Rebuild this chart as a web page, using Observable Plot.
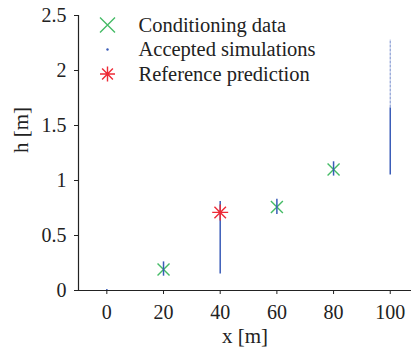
<!DOCTYPE html>
<html>
<head>
<meta charset="utf-8">
<script src="https://cdn.jsdelivr.net/npm/d3@7"></script>
<script src="https://cdn.jsdelivr.net/npm/@observablehq/plot@0.6"></script>
<style>
  html, body { margin: 0; padding: 0; background: #fff; }
  #chart svg { display: block; }
</style>
</head>
<body>
<div id="chart"></div>
<script>
// ---- data ----
const condX = [20, 60, 80];              // conditioning data positions [m]
const condH = [0.19, 0.76, 1.10];        // conditioning data heads [m]

const refX = [40];                       // reference prediction position
const refH = [0.71];                     // reference prediction head

// accepted simulations: ranges of simulated heads at each position (dense part)
const simX    = [0, 20, 40, 60, 80, 100];
const simLow  = [0, 0.13, 0.15, 0.69, 1.04, 1.05];
const simHigh = [0.01, 0.26, 0.81, 0.83, 1.17, 1.66];
// sparse tail of accepted simulations at x = 100
const simSparseX    = [100];
const simSparseLow  = [1.66];
const simSparseHigh = [2.28];

const xTicks = [0, 20, 40, 60, 80, 100];
const xTickLabels = ["0", "20", "40", "60", "80", "100"];
const yTicks = [0, 0.5, 1, 1.5, 2, 2.5];
const yTickLabels = ["0", "0.5", "1", "1.5", "2", "2.5"];

const legendLabels = ["Conditioning data", "Accepted simulations", "Reference prediction"];

// ---- build tables ----
const cond = condX.map((x, i) => ({x, h: condH[i]}));
const refp = refX.map((x, i) => ({x, h: refH[i]}));
const sims = simX.map((x, i) => ({x, lo: simLow[i], hi: simHigh[i]}));
const simsSparse = simSparseX.map((x, i) => ({x, lo: simSparseLow[i], hi: simSparseHigh[i]}));

const GREEN = "#45bb66";
const RED = "#ee2a36";
const BLUE = "#3a5cb8";
const INK = "#222";

const xSym = {
  draw(ctx, size) {
    const r = Math.sqrt(size / Math.PI);
    ctx.moveTo(-r, -r); ctx.lineTo(r, r);
    ctx.moveTo(-r, r); ctx.lineTo(r, -r);
  }
};
const starSym = {
  draw(ctx, size) {
    const r = Math.sqrt(size / Math.PI);
    const d = r * 0.72;
    ctx.moveTo(-r, 0); ctx.lineTo(r, 0);
    ctx.moveTo(0, -r); ctx.lineTo(0, r);
    ctx.moveTo(-d, -d); ctx.lineTo(d, d);
    ctx.moveTo(-d, d); ctx.lineTo(d, -d);
  }
};

const legendRows = legendLabels.map((label, i) => ({label, i}));
const rowDy = (i) => 9.5 + i * 24.5;

const chart = Plot.plot({
  width: 411,
  height: 349,
  marginLeft: 78,
  marginRight: 0,
  marginTop: 15,
  marginBottom: 59,
  style: {fontFamily: "'Liberation Serif', 'Times New Roman', serif", fontSize: "20px", color: INK, background: "#fff"},
  x: {domain: [-10, 107.5]},
  y: {domain: [0, 2.5]},
  marks: [
    Plot.axisX({ticks: xTicks, tickFormat: (d) => xTickLabels[xTicks.indexOf(d)], tickSize: 4, tickPadding: 10, label: null, stroke: INK, fill: INK, fontSize: 20}),
    Plot.axisY({ticks: yTicks, tickFormat: (d) => yTickLabels[yTicks.indexOf(d)], tickSize: 4, tickPadding: 8, label: null, stroke: INK, fill: INK, fontSize: 20}),
    Plot.ruleY([0], {stroke: INK, strokeWidth: 1.2}),
    Plot.ruleX([-10], {stroke: INK, strokeWidth: 1.2}),
    // conditioning data
    Plot.dot(cond, {x: "x", y: "h", symbol: xSym, r: 6, stroke: GREEN, fill: "none", strokeWidth: 1.4}),
    // accepted simulations
    Plot.ruleX(sims, {x: "x", y1: "lo", y2: "hi", stroke: BLUE, strokeWidth: 1.5}),
    Plot.ruleX(simsSparse, {x: "x", y1: "lo", y2: "hi", stroke: BLUE, strokeWidth: 1.2, strokeOpacity: 0.6, strokeDasharray: "3,1"}),
    // reference prediction
    Plot.dot(refp, {x: "x", y: "h", symbol: starSym, r: 8, stroke: RED, fill: "none", strokeWidth: 1.4}),
    // axis labels
    Plot.text(["x [m]"], {frameAnchor: "bottom", dy: 46, lineAnchor: "middle", fontSize: 21, fill: INK}),
    Plot.text(["h [m]"], {frameAnchor: "left", dx: -57, rotate: -90, lineAnchor: "middle", fontSize: 21, fill: INK}),
    // legend
    Plot.dot([legendRows[0]], {frameAnchor: "top-left", dx: 29, dy: rowDy(0), symbol: xSym, r: 7.5, stroke: GREEN, fill: "none", strokeWidth: 1.4}),
    Plot.dot([legendRows[1]], {frameAnchor: "top-left", dx: 29, dy: rowDy(1), r: 1.2, fill: BLUE, stroke: "none"}),
    Plot.dot([legendRows[2]], {frameAnchor: "top-left", dx: 29, dy: rowDy(2), symbol: starSym, r: 7.5, stroke: RED, fill: "none", strokeWidth: 1.4}),
    ...legendRows.map((row) => Plot.text([row], {frameAnchor: "top-left", dx: 60, dy: rowDy(row.i), text: "label", textAnchor: "start", lineAnchor: "middle", fontSize: 20.5, fill: INK}))
  ]
});
document.getElementById("chart").appendChild(chart);
</script>
</body>
</html>
